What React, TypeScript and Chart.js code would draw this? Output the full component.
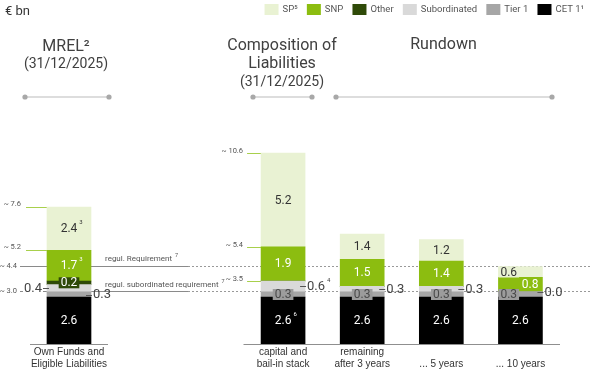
import React, { useEffect, useRef } from "react";
import { Chart, registerables } from "chart.js";
Chart.register(...registerables);

// ---------------- data ----------------
const mrelCategories = [["Own Funds and", "Eligible Liabilities"]];
const stackCategories = [
  ["capital and", "bail-in stack"],
  ["remaining", "after 3 years"],
  ["", "... 5 years"],
  ["", "... 10 years"],
];

const cet1Mrel = [2.6];
const cet1Stack = [2.6, 2.6, 2.6, 2.6];
const tier1Mrel = [0.3];
const tier1Stack = [0.3, 0.3, 0.3, 0.3];
const subordinatedMrel = [0.4];
const subordinatedStack = [0.6, 0.3, 0.3, 0.0];
const otherMrel = [0.2];
const otherStack = [0, 0, 0, 0];
const snpMrel = [1.7];
const snpStack = [1.9, 1.5, 1.4, 0.8];
const spMrel = [2.4];
const spStack = [5.2, 1.4, 1.2, 0.6];

const legendLabels = ["SP⁵", "SNP", "Other", "Subordinated", "Tier 1", "CET 1¹"];

const regulRequirement = 4.35;
const regulRequirementTick = "~ 4.4";
const regulRequirementText = "regul. Requirement";
const subRequirement = 2.95;
const subRequirementTick = "~ 3.0";
const subRequirementText = "regul. subordinated requirement";

const unitText = "€ bn";
const mrelTitle = ["MREL²", "(31/12/2025)"];
const compositionTitle = ["Composition of", "Liabilities", "(31/12/2025)"];
const rundownTitle = ["Rundown"];

// ---------------- styles / layout ----------------
const FONT = 'Roboto, "Noto Sans", sans-serif';
const C = {
  cet1: "#000000",
  tier1: "#a6a6a6",
  sub: "#d9d9d9",
  other: "#2f4a08",
  snp: "#8cbd10",
  sp: "#e9f2d3",
};
const LEFT_AXIS_WIDTH = 78;
const RIGHT_AXIS_WIDTH = 316.5;
const AXIS_HEIGHT = 31;

type Series = {
  name: string;
  color: string;
  mrel: number[];
  stack: number[];
  mrelModes: (string | null)[];
  stackModes: (string | null)[];
  mrelNotes: string[];
  stackNotes: string[];
  textColor: string;
  boxBg: string;
  boxText: string;
};

const series: Series[] = [
  { name: "CET 1", color: C.cet1, mrel: cet1Mrel, stack: cet1Stack, mrelModes: ["in"], stackModes: ["in", "in", "in", "in"], mrelNotes: [""], stackNotes: ["6", "", "", ""], textColor: "#ffffff", boxBg: C.cet1, boxText: "#fff" },
  { name: "Tier 1", color: C.tier1, mrel: tier1Mrel, stack: tier1Stack, mrelModes: ["right"], stackModes: ["box", "box", "box", "boxL"], mrelNotes: [""], stackNotes: ["", "", "", ""], textColor: "#444", boxBg: "#9c9c9c", boxText: "#4a4a4a" },
  { name: "Subordinated", color: C.sub, mrel: subordinatedMrel, stack: subordinatedStack, mrelModes: ["left"], stackModes: ["right", "right", "right", "right"], mrelNotes: [""], stackNotes: ["4", "", "", ""], textColor: "#444", boxBg: C.sub, boxText: "#444" },
  { name: "Other", color: C.other, mrel: otherMrel, stack: otherStack, mrelModes: ["box"], stackModes: [null, null, null, null], mrelNotes: [""], stackNotes: ["", "", "", ""], textColor: "#fff", boxBg: C.other, boxText: "#ffffff" },
  { name: "SNP", color: C.snp, mrel: snpMrel, stack: snpStack, mrelModes: ["in"], stackModes: ["in", "in", "in", "inR"], mrelNotes: ["3"], stackNotes: ["", "", "", ""], textColor: "#ffffff", boxBg: C.snp, boxText: "#fff" },
  { name: "SP", color: C.sp, mrel: spMrel, stack: spStack, mrelModes: ["in"], stackModes: ["in", "in", "in", "boxL"], mrelNotes: ["3"], stackNotes: ["", "", "", ""], textColor: "#333333", boxBg: C.sp, boxText: "#333" },
];

const datasets: any[] = [];
series.forEach((s) => {
  datasets.push({
    label: s.name, data: s.mrel, xAxisID: "xL", yAxisID: "y",
    backgroundColor: s.color, borderWidth: 0, barThickness: 44, grouped: false,
    labelModes: s.mrelModes, notes: s.mrelNotes, styleRef: s,
  });
});
series.forEach((s) => {
  datasets.push({
    label: s.name, data: s.stack, xAxisID: "xR", yAxisID: "y",
    backgroundColor: s.color, borderWidth: 0, barThickness: 44, grouped: false,
    labelModes: s.stackModes, notes: s.stackNotes, styleRef: s,
  });
});

function f(size: number) {
  return `${size}px ${FONT}`;
}

function barGeom(el: any) {
  const p = el.getProps(["x", "y", "base", "width"], true);
  return { x: p.x, top: Math.min(p.y, p.base), bottom: Math.max(p.y, p.base), left: p.x - p.width / 2, right: p.x + p.width / 2 };
}

const decorPlugin = {
  id: "decor",
  afterLayout(chart: any) {
    const area = chart.chartArea;
    const place = (s: any, left: number, right: number) => {
      s.left = left;
      s.right = right;
      s.width = right - left;
      s.top = area.bottom;
      s.bottom = area.bottom + AXIS_HEIGHT;
      s.height = AXIS_HEIGHT;
      s.configure();
    };
    place(chart.scales.xL, area.left, area.left + LEFT_AXIS_WIDTH);
    place(chart.scales.xR, area.right - RIGHT_AXIS_WIDTH, area.right);
  },
  beforeDatasetsDraw(chart: any) {
    const ctx = chart.ctx as CanvasRenderingContext2D;
    const ys = chart.scales.y;
    const b1 = barGeom(chart.getDatasetMeta(0).data[0]);
    const b2 = barGeom(chart.getDatasetMeta(series.length).data[0]);
    ctx.save();
    ctx.textBaseline = "middle";

    // requirement lines
    const reqs = [
      { v: regulRequirement, tick: regulRequirementTick, text: regulRequirementText, dy: -8 },
      { v: subRequirement, tick: subRequirementTick, text: subRequirementText, dy: -7 },
    ];
    reqs.forEach((r) => {
      const py = Math.round(ys.getPixelForValue(r.v)) + 0.5;
      ctx.strokeStyle = "#8a8a8a";
      ctx.lineWidth = 1;
      ctx.setLineDash([]);
      ctx.beginPath();
      ctx.moveTo(20, py);
      ctx.lineTo(b1.left, py);
      ctx.moveTo(b1.right, py);
      ctx.lineTo(188, py);
      ctx.stroke();
      ctx.strokeStyle = "#999";
      ctx.setLineDash([2, 2]);
      ctx.beginPath();
      ctx.moveTo(188, py);
      ctx.lineTo(590, py);
      ctx.stroke();
      ctx.setLineDash([]);
      ctx.fillStyle = "#555";
      ctx.font = f(7.5);
      ctx.textAlign = "right";
      ctx.fillText(r.tick, 17, py);
      ctx.font = f(8);
      ctx.textAlign = "left";
      ctx.fillText(r.text, 105, py + r.dy);
      const w = ctx.measureText(r.text).width;
      ctx.font = f(5.5);
      ctx.fillText("7", 105 + w + 3, py + r.dy - 3);
    });

    // green level marks (cumulative sums of the stacks)
    const cum = (arrs: number[][], j: number) => arrs.reduce((a, arr) => a + arr[j], 0);
    const mrelArrs = series.map((s) => s.mrel);
    const stackArrs = series.map((s) => s.stack);
    const mrelMarks = [cum(mrelArrs, 0), cum(mrelArrs.slice(0, 5), 0)];
    const stackMarks = [cum(stackArrs, 0), cum(stackArrs.slice(0, 5), 0), cum(stackArrs.slice(0, 3), 0)];
    ctx.strokeStyle = "#a8d04c";
    ctx.fillStyle = "#555";
    ctx.font = f(7.5);
    ctx.textAlign = "right";
    mrelMarks.forEach((v) => {
      const py = Math.round(ys.getPixelForValue(v)) + 0.5;
      ctx.beginPath();
      ctx.moveTo(26, py);
      ctx.lineTo(b1.left, py);
      ctx.stroke();
      ctx.fillText("~ " + v.toFixed(1), 21, py - 3);
    });
    stackMarks.forEach((v) => {
      const py = Math.round(ys.getPixelForValue(v)) + 0.5;
      ctx.beginPath();
      ctx.moveTo(b2.left - 14, py);
      ctx.lineTo(b2.left, py);
      ctx.stroke();
      ctx.fillText("~ " + v.toFixed(1), b2.left - 18, py - 2);
    });
    ctx.restore();
  },
  afterDatasetsDraw(chart: any) {
    const ctx = chart.ctx as CanvasRenderingContext2D;
    ctx.save();

    // axis baselines
    ctx.strokeStyle = "#8f8f8f";
    ctx.lineWidth = 1;
    [chart.scales.xL, chart.scales.xR].forEach((s: any) => {
      const py = Math.round(s.top) + 0.5;
      ctx.beginPath();
      ctx.moveTo(s.left, py);
      ctx.lineTo(s.right, py);
      ctx.stroke();
    });

    ctx.textBaseline = "middle";
    chart.data.datasets.forEach((ds: any, i: number) => {
      const meta = chart.getDatasetMeta(i);
      const s: Series = ds.styleRef;
      meta.data.forEach((el: any, j: number) => {
        const mode = ds.labelModes[j];
        if (!mode) return;
        const str = (ds.data[j] as number).toFixed(1);
        const g = barGeom(el);
        const cy = (g.top + g.bottom) / 2;
        const note = ds.notes[j];
        let tx = g.x;
        let align: CanvasTextAlign = "center";
        let size = 12;
        let color = s.textColor;
        if (mode === "in") {
          tx = g.x;
        } else if (mode === "inR") {
          tx = g.right - 4;
          align = "right";
        } else if (mode === "box" || mode === "boxL") {
          ctx.font = f(12);
          const w = ctx.measureText(str).width + 4;
          const bx = mode === "box" ? g.x - w / 2 : g.left;
          ctx.fillStyle = s.boxBg;
          ctx.fillRect(bx, cy - 5.5, w, 11);
          tx = bx + w / 2;
          color = s.boxText;
        } else if (mode === "right") {
          ctx.strokeStyle = "#555";
          ctx.lineWidth = 1;
          ctx.beginPath();
          ctx.moveTo(g.right - 5, Math.round(cy) + 0.5);
          ctx.lineTo(g.right + 1, Math.round(cy) + 0.5);
          ctx.stroke();
          tx = g.right + 2;
          align = "left";
          size = 13;
          color = "#444";
        } else if (mode === "left") {
          ctx.font = f(13);
          const w = ctx.measureText(str).width;
          ctx.fillStyle = "#fff";
          ctx.fillRect(g.left - 5 - w - 1, cy - 6, w + 2, 12);
          ctx.strokeStyle = "#555";
          ctx.lineWidth = 1;
          ctx.beginPath();
          ctx.moveTo(g.left - 4, Math.round(cy) + 0.5);
          ctx.lineTo(g.left + 2, Math.round(cy) + 0.5);
          ctx.stroke();
          tx = g.left - 5;
          align = "right";
          size = 13;
          color = "#444";
        }
        ctx.font = f(size);
        ctx.textAlign = align;
        ctx.fillStyle = color;
        ctx.fillText(str, tx, cy + 0.5);
        if (note) {
          const w = ctx.measureText(str).width;
          const right = align === "center" ? tx + w / 2 : align === "left" ? tx + w : tx;
          ctx.font = f(6);
          ctx.textAlign = "left";
          ctx.fillText(note, right + 2, cy - 6);
        }
      });
    });
    ctx.restore();
  },
  afterDraw(chart: any) {
    const ctx = chart.ctx as CanvasRenderingContext2D;
    ctx.save();
    ctx.textBaseline = "middle";
    ctx.fillStyle = "#333";
    ctx.font = f(13);
    ctx.textAlign = "left";
    ctx.fillText(unitText, 5, 12);

    ctx.fillStyle = "#404040";
    ctx.textAlign = "center";
    ctx.font = f(16);
    ctx.fillText(mrelTitle[0], 66, 47);
    ctx.font = f(14);
    ctx.fillText(mrelTitle[1], 66, 64);
    ctx.font = f(16);
    ctx.fillText(compositionTitle[0], 282, 46);
    ctx.fillText(compositionTitle[1], 282, 64);
    ctx.font = f(14);
    ctx.fillText(compositionTitle[2], 282, 82);
    ctx.font = f(16);
    ctx.fillText(rundownTitle[0], 443.5, 45);

    const rules = [
      [25, 109],
      [253, 312],
      [336, 552],
    ];
    rules.forEach(([a, b]) => {
      ctx.strokeStyle = "#d2d2d2";
      ctx.lineWidth = 1.5;
      ctx.beginPath();
      ctx.moveTo(a, 97);
      ctx.lineTo(b, 97);
      ctx.stroke();
      ctx.fillStyle = "#a8a8a8";
      [a, b].forEach((px) => {
        ctx.beginPath();
        ctx.arc(px, 97, 2.6, 0, Math.PI * 2);
        ctx.fill();
      });
    });

    ctx.font = f(9.5);
    const colors = [C.sp, C.snp, C.other, C.sub, C.tier1, C.cet1];
    const sw = 14, gapT = 4, gapI = 9.2;
    const widths = legendLabels.map((l) => ctx.measureText(l).width);
    const total = widths.reduce((a, w) => a + sw + gapT + w, 0) + gapI * (legendLabels.length - 1);
    let lx = 584 - total;
    legendLabels.forEach((l, k) => {
      ctx.fillStyle = colors[k];
      ctx.fillRect(lx, 4, sw, 11);
      ctx.fillStyle = "#555";
      ctx.textAlign = "left";
      ctx.fillText(l, lx + sw + gapT, 10);
      lx += sw + gapT + widths[k] + gapI;
    });
    ctx.restore();
  },
};

const tickFont = { family: '"Liberation Sans", Arial, sans-serif', size: 10, lineHeight: 1.2 };

export default function App() {
  const ref = useRef<HTMLCanvasElement>(null);
  useEffect(() => {
    Chart.defaults.font.family = FONT;
    const chart = new Chart(ref.current as HTMLCanvasElement, {
      type: "bar",
      data: { datasets },
      options: {
        animation: false,
        responsive: false,
        devicePixelRatio: 1,
        layout: { padding: { top: 146, left: 30, right: 40, bottom: 0 } },
        plugins: { legend: { display: false }, tooltip: { enabled: false } },
        scales: {
          xL: {
            type: "category", position: "bottom",
            labels: mrelCategories as any, stacked: true, offset: true,
            grid: { display: false, drawTicks: false },
            border: { display: false },
            ticks: { font: tickFont, color: "#333", padding: 2, maxRotation: 0, autoSkip: false },
            afterFit: (s: any) => { s.height = 0; },
          },
          xR: {
            type: "category", position: "bottom",
            labels: stackCategories as any, stacked: true, offset: true,
            grid: { display: false, drawTicks: false },
            border: { display: false },
            ticks: { font: tickFont, color: "#333", padding: 2, maxRotation: 0, autoSkip: false },
            afterFit: (s: any) => { s.height = AXIS_HEIGHT; },
          },
          y: { type: "linear", display: false, stacked: true, min: 0, max: 11 },
        },
      } as any,
      plugins: [decorPlugin],
    });
    return () => chart.destroy();
  }, []);
  return (
    <div style={{ position: "absolute", left: 0, top: 0, width: 600, height: 375 }}>
      <canvas ref={ref} width={600} height={375} style={{ display: "block" }} />
    </div>
  );
}
